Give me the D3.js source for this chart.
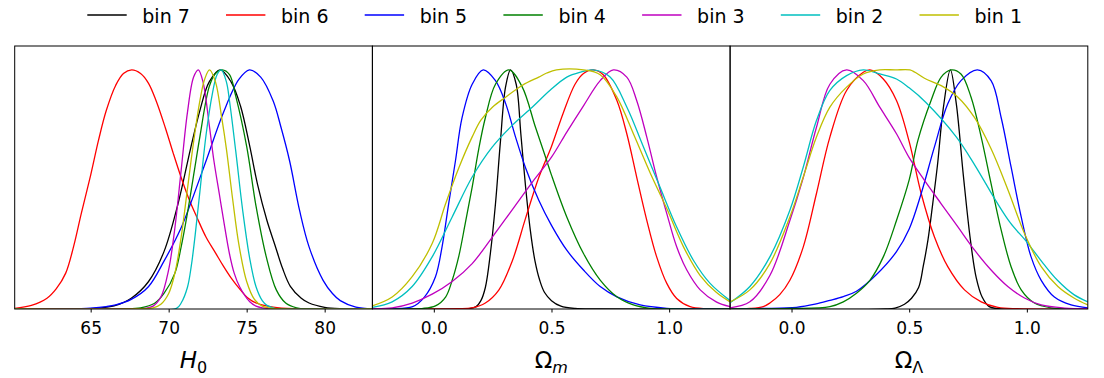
<!DOCTYPE html>
<html>
<head>
<meta charset="utf-8">
<script src="https://cdnjs.cloudflare.com/ajax/libs/d3/7.8.5/d3.min.js"></script>
<style>
body { margin: 0; background: #fff; }
svg text { font-family: "DejaVu Sans", sans-serif; fill: #000; }
</style>
</head>
<body>
<script>
var bins = ["bin 7", "bin 6", "bin 5", "bin 4", "bin 3", "bin 2", "bin 1"];
var binColors = ["#000000", "#ff0000", "#0000ff", "#008000", "#bf00bf", "#00bfbf", "#bfbf00"];

var h0Ticks = [65, 70, 75, 80];
var omTicks = [0.0, 0.5, 1.0];
var olTicks = [0.0, 0.5, 1.0];

/* H0 panel, [value, normalised density] */
var h0_bin7 = [[60.13,0],[63.5,0.0005],[64.5,0.0015],[65.5,0.004],[66.5,0.013],[67.6,0.045],[68.7,0.114],[69.7,0.24],[70.6,0.44],[71.4,0.67],[72.0,0.83],[72.6,0.95],[73.3,1.0],[74.0,0.95],[74.6,0.85],[75.2,0.68],[75.7,0.52],[76.3,0.37],[76.8,0.27],[77.3,0.17],[77.8,0.095],[78.5,0.045],[79.0,0.025],[80.0,0.007],[81.0,0.001],[83.06,0]];
var h0_bin6 = [[60.13,0.003],[61.2,0.015],[62.2,0.045],[62.8,0.085],[63.4,0.15],[63.9,0.26],[64.4,0.40],[65.0,0.56],[65.5,0.705],[66.0,0.83],[66.6,0.935],[67.1,0.985],[67.63,1.0],[68.2,0.985],[68.7,0.945],[69.2,0.87],[69.8,0.755],[70.3,0.65],[70.8,0.55],[71.3,0.46],[71.8,0.385],[72.4,0.30],[73.0,0.235],[73.5,0.18],[74.0,0.13],[74.6,0.08],[75.1,0.045],[75.6,0.025],[76.7,0.008],[78,0.001],[83.06,0]];
var h0_bin5 = [[60.13,0],[63.5,0.001],[65.0,0.004],[66.0,0.01],[66.6,0.017],[67.6,0.04],[68.7,0.093],[69.7,0.20],[70.8,0.34],[71.4,0.44],[72.4,0.62],[73.5,0.82],[74.5,0.96],[75.18,1.0],[75.9,0.97],[76.7,0.87],[77.2,0.76],[77.75,0.62],[78.4,0.41],[79.0,0.26],[79.9,0.12],[80.5,0.065],[81.0,0.035],[82.0,0.008],[83.06,0.001]];
var h0_bin4 = [[60.13,0],[67.0,0.001],[68.2,0.005],[69.1,0.024],[69.7,0.065],[70.4,0.15],[70.8,0.26],[71.2,0.40],[71.65,0.58],[72.0,0.72],[72.6,0.93],[73.0,0.985],[73.43,1.0],[73.9,0.98],[74.3,0.89],[75.0,0.68],[75.6,0.43],[76.25,0.22],[76.9,0.08],[77.5,0.025],[78.2,0.005],[79,0],[83.06,0]];
var h0_bin3 = [[60.13,0],[68.0,0.001],[68.5,0.003],[69.0,0.012],[69.5,0.05],[70.0,0.165],[70.4,0.34],[70.8,0.58],[71.2,0.82],[71.6,0.97],[71.9,1.0],[72.2,0.95],[72.6,0.77],[72.9,0.62],[73.25,0.48],[73.6,0.34],[73.9,0.23],[74.2,0.15],[74.55,0.093],[75.2,0.03],[75.6,0.012],[76.0,0.005],[77,0],[83.06,0]];
var h0_bin2 = [[60.13,0],[70.5,0.003],[70.8,0.025],[71.2,0.09],[71.45,0.18],[71.7,0.31],[72.0,0.49],[72.4,0.73],[72.8,0.90],[73.1,0.98],[73.37,1.0],[73.7,0.95],[73.9,0.87],[74.3,0.66],[74.75,0.41],[75.2,0.21],[75.6,0.093],[76.0,0.035],[76.3,0.015],[76.8,0.003],[77.5,0],[83.06,0]];
var h0_bin1 = [[60.13,0],[68.0,0.001],[69.0,0.005],[69.5,0.02],[70.0,0.065],[70.4,0.15],[70.8,0.30],[71.2,0.50],[71.6,0.70],[72.0,0.87],[72.3,0.96],[72.62,1.0],[73.0,0.95],[73.4,0.80],[73.7,0.67],[74.1,0.46],[74.5,0.27],[75.0,0.115],[75.5,0.04],[76.0,0.012],[76.5,0.004],[77.5,0],[83.06,0]];

/* Omega_m panel */
var om_bin7 = [[-0.261,0],[0.12,0],[0.15,0.002],[0.18,0.01],[0.20,0.035],[0.219,0.09],[0.24,0.23],[0.262,0.44],[0.283,0.70],[0.305,0.93],[0.326,1.0],[0.35,0.94],[0.37,0.73],[0.39,0.51],[0.41,0.33],[0.43,0.20],[0.45,0.12],[0.47,0.07],[0.50,0.035],[0.54,0.012],[0.60,0.002],[0.70,0],[1.259,0]];
var om_bin6 = [[-0.261,0],[0.10,0.001],[0.163,0.005],[0.219,0.025],[0.276,0.079],[0.333,0.20],[0.39,0.38],[0.446,0.55],[0.50,0.68],[0.55,0.82],[0.60,0.94],[0.636,0.985],[0.678,1.0],[0.72,0.98],[0.778,0.872],[0.82,0.733],[0.862,0.552],[0.905,0.371],[0.947,0.218],[0.99,0.107],[1.032,0.044],[1.089,0.01],[1.16,0.001],[1.259,0]];
var om_bin5 = [[-0.261,0],[-0.18,0.001],[-0.09,0.01],[-0.04,0.05],[0.007,0.135],[0.035,0.26],[0.063,0.44],[0.092,0.62],[0.12,0.80],[0.163,0.94],[0.21,1.0],[0.262,0.955],[0.305,0.86],[0.347,0.72],[0.39,0.59],[0.446,0.455],[0.50,0.35],[0.565,0.246],[0.636,0.163],[0.707,0.094],[0.778,0.051],[0.877,0.017],[0.99,0.003],[1.1,0.0005],[1.259,0]];
var om_bin4 = [[-0.261,0],[-0.1,0],[-0.05,0.002],[0.007,0.013],[0.05,0.05],[0.078,0.12],[0.106,0.22],[0.134,0.36],[0.163,0.51],[0.191,0.67],[0.219,0.80],[0.262,0.94],[0.319,1.0],[0.375,0.93],[0.432,0.76],[0.475,0.635],[0.50,0.56],[0.565,0.385],[0.636,0.232],[0.707,0.121],[0.778,0.051],[0.848,0.017],[0.92,0.003],[1.0,0],[1.259,0]];
var om_bin3 = [[-0.261,0.002],[-0.177,0.005],[-0.092,0.025],[-0.007,0.062],[0.078,0.115],[0.163,0.19],[0.248,0.30],[0.333,0.415],[0.418,0.53],[0.50,0.635],[0.565,0.74],[0.636,0.85],[0.707,0.955],[0.763,1.0],[0.82,0.97],[0.862,0.872],[0.905,0.719],[0.947,0.552],[0.99,0.399],[1.032,0.26],[1.075,0.163],[1.132,0.08],[1.2,0.03],[1.259,0.01]];
var om_bin2 = [[-0.261,0.007],[-0.177,0.03],[-0.092,0.094],[-0.007,0.218],[0.078,0.385],[0.163,0.552],[0.248,0.677],[0.333,0.768],[0.418,0.844],[0.494,0.915],[0.565,0.97],[0.62,0.99],[0.678,1.0],[0.749,0.97],[0.82,0.845],[0.89,0.68],[0.961,0.51],[1.032,0.343],[1.103,0.204],[1.174,0.107],[1.259,0.035]];
var om_bin1 = [[-0.261,0.013],[-0.177,0.05],[-0.092,0.135],[-0.007,0.274],[0.05,0.44],[0.106,0.59],[0.163,0.72],[0.2,0.79],[0.25,0.845],[0.305,0.886],[0.375,0.935],[0.446,0.97],[0.48,0.987],[0.521,1.0],[0.636,1.0],[0.707,0.98],[0.778,0.886],[0.848,0.733],[0.919,0.57],[0.99,0.42],[1.061,0.26],[1.132,0.14],[1.2,0.07],[1.259,0.03]];

/* Omega_Lambda panel */
var ol_bin7 = [[-0.261,0],[0.40,0],[0.44,0.004],[0.48,0.02],[0.51,0.045],[0.54,0.09],[0.56,0.18],[0.58,0.29],[0.60,0.44],[0.62,0.60],[0.645,0.84],[0.675,1.0],[0.70,0.86],[0.73,0.56],[0.76,0.29],[0.785,0.13],[0.81,0.05],[0.84,0.01],[0.88,0.001],[1.259,0]];
var ol_bin6 = [[-0.261,0],[-0.177,0.002],[-0.12,0.01],[-0.092,0.025],[-0.05,0.06],[-0.007,0.12],[0.05,0.26],[0.106,0.483],[0.163,0.719],[0.234,0.914],[0.305,0.99],[0.333,1.0],[0.39,0.962],[0.446,0.872],[0.50,0.70],[0.551,0.483],[0.607,0.302],[0.664,0.177],[0.735,0.08],[0.806,0.03],[0.877,0.007],[0.96,0.001],[1.259,0]];
var ol_bin5 = [[-0.261,0],[-0.12,0.002],[0.021,0.007],[0.10,0.02],[0.163,0.036],[0.22,0.052],[0.276,0.074],[0.36,0.143],[0.446,0.24],[0.50,0.335],[0.551,0.483],[0.607,0.677],[0.664,0.858],[0.72,0.955],[0.79,1.0],[0.848,0.955],[0.891,0.80],[0.933,0.594],[0.976,0.385],[1.018,0.218],[1.061,0.12],[1.117,0.05],[1.188,0.017],[1.259,0.005]];
var ol_bin4 = [[-0.261,0],[-0.007,0.002],[0.163,0.01],[0.22,0.03],[0.276,0.066],[0.333,0.12],[0.39,0.218],[0.446,0.37],[0.50,0.54],[0.537,0.705],[0.593,0.872],[0.636,0.97],[0.678,1.0],[0.72,0.983],[0.763,0.886],[0.806,0.719],[0.848,0.524],[0.891,0.33],[0.933,0.177],[0.976,0.08],[1.032,0.025],[1.103,0.005],[1.259,0]];
var ol_bin3 = [[-0.261,0.005],[-0.177,0.03],[-0.092,0.14],[-0.007,0.37],[0.05,0.55],[0.106,0.76],[0.163,0.94],[0.234,1.0],[0.305,0.955],[0.375,0.844],[0.446,0.733],[0.50,0.633],[0.565,0.538],[0.636,0.44],[0.707,0.343],[0.778,0.246],[0.848,0.163],[0.919,0.094],[0.99,0.046],[1.061,0.017],[1.16,0.004],[1.259,0.001]];
var ol_bin2 = [[-0.261,0.026],[-0.177,0.094],[-0.092,0.218],[-0.007,0.413],[0.05,0.594],[0.106,0.788],[0.163,0.914],[0.234,0.976],[0.305,1.0],[0.375,0.983],[0.446,0.962],[0.50,0.925],[0.57,0.865],[0.70,0.72],[0.78,0.60],[0.87,0.45],[0.93,0.36],[1.0,0.28],[1.07,0.19],[1.13,0.12],[1.2,0.06],[1.259,0.03]];
var ol_bin1 = [[-0.261,0.03],[-0.177,0.08],[-0.092,0.19],[-0.007,0.385],[0.05,0.552],[0.106,0.719],[0.163,0.844],[0.234,0.928],[0.305,0.983],[0.375,1.0],[0.44,1.0],[0.503,1.0],[0.525,0.99],[0.565,0.965],[0.636,0.934],[0.707,0.886],[0.778,0.80],[0.848,0.67],[0.919,0.50],[0.99,0.316],[1.061,0.177],[1.132,0.094],[1.2,0.046],[1.259,0.017]];

var W = 1104, H = 378;
var left0 = 14.7, panelW = 357.7, plotTop = 46, plotBottom = 309;

var panels = [
	{dom: [60.13, 83.06], ticks: h0Ticks, fmt: d3.format("d"), curves: [h0_bin7, h0_bin6, h0_bin5, h0_bin4, h0_bin3, h0_bin2, h0_bin1], lab: "H", sub: "0", subItalic: false},
	{dom: [-0.261, 1.259], ticks: omTicks, fmt: d3.format(".1f"), curves: [om_bin7, om_bin6, om_bin5, om_bin4, om_bin3, om_bin2, om_bin1], lab: "Ω", sub: "m", subItalic: true},
	{dom: [-0.261, 1.259], ticks: olTicks, fmt: d3.format(".1f"), curves: [ol_bin7, ol_bin6, ol_bin5, ol_bin4, ol_bin3, ol_bin2, ol_bin1], lab: "Ω", sub: "Λ", subItalic: false}
];

var svg = d3.select("body").append("svg")
	.attr("width", W)
	.attr("height", H);

var yScale = d3.scaleLinear().domain([0, 1.1]).range([plotBottom, plotTop]);

panels.forEach(function(p, i) {
	var x0 = left0 + i * panelW;
	var xScale = d3.scaleLinear().domain(p.dom).range([x0, x0 + panelW]);

	svg.append("clipPath").attr("id", "clip" + i)
		.append("rect").attr("x", x0).attr("y", plotTop).attr("width", panelW).attr("height", plotBottom - plotTop);

	var line = d3.line()
		.x(function(d) { return xScale(d[0]); })
		.y(function(d) { return yScale(d[1]); })
		.curve(d3.curveCatmullRom.alpha(0.5));

	var g = svg.append("g").attr("clip-path", "url(#clip" + i + ")");
	p.curves.forEach(function(c, k) {
		g.append("path")
			.attr("d", line(c))
			.attr("fill", "none")
			.attr("stroke", binColors[k])
			.attr("stroke-width", 1.3);
	});

	var xAxis = d3.axisBottom(xScale)
		.tickValues(p.ticks)
		.tickFormat(p.fmt)
		.tickSize(3.5)
		.tickPadding(9);
	var ax = svg.append("g")
		.attr("transform", "translate(0," + plotBottom + ")")
		.call(xAxis);
	ax.select(".domain").remove();
	ax.selectAll(".tick line").attr("stroke", "#000").attr("stroke-width", 1);
	ax.selectAll(".tick text")
		.attr("font-family", "DejaVu Sans, sans-serif")
		.attr("font-size", 17)
		.attr("fill", "#000");

	svg.append("rect")
		.attr("x", x0).attr("y", plotTop)
		.attr("width", panelW).attr("height", plotBottom - plotTop)
		.attr("fill", "none")
		.attr("stroke", "#000")
		.attr("stroke-width", 1);

	var t = svg.append("text")
		.attr("x", x0 + panelW / 2)
		.attr("y", 368)
		.attr("text-anchor", "middle")
		.attr("font-size", 23);
	t.append("tspan").text(p.lab).attr("font-style", i == 0 ? "italic" : "normal");
	t.append("tspan").text(p.sub)
		.attr("font-size", 16)
		.attr("dy", 5)
		.attr("font-style", p.subItalic ? "italic" : "normal");
});

/* legend */
var leg = svg.append("g");
bins.forEach(function(b, k) {
	var lx = 87.3 + k * 138.7;
	leg.append("line")
		.attr("x1", lx).attr("x2", lx + 39.4)
		.attr("y1", 15).attr("y2", 15)
		.attr("stroke", binColors[k])
		.attr("stroke-width", 1.3);
	leg.append("text")
		.attr("x", lx + 55)
		.attr("y", 22.5)
		.attr("font-size", 19)
		.text(b);
});
</script>
</body>
</html>
